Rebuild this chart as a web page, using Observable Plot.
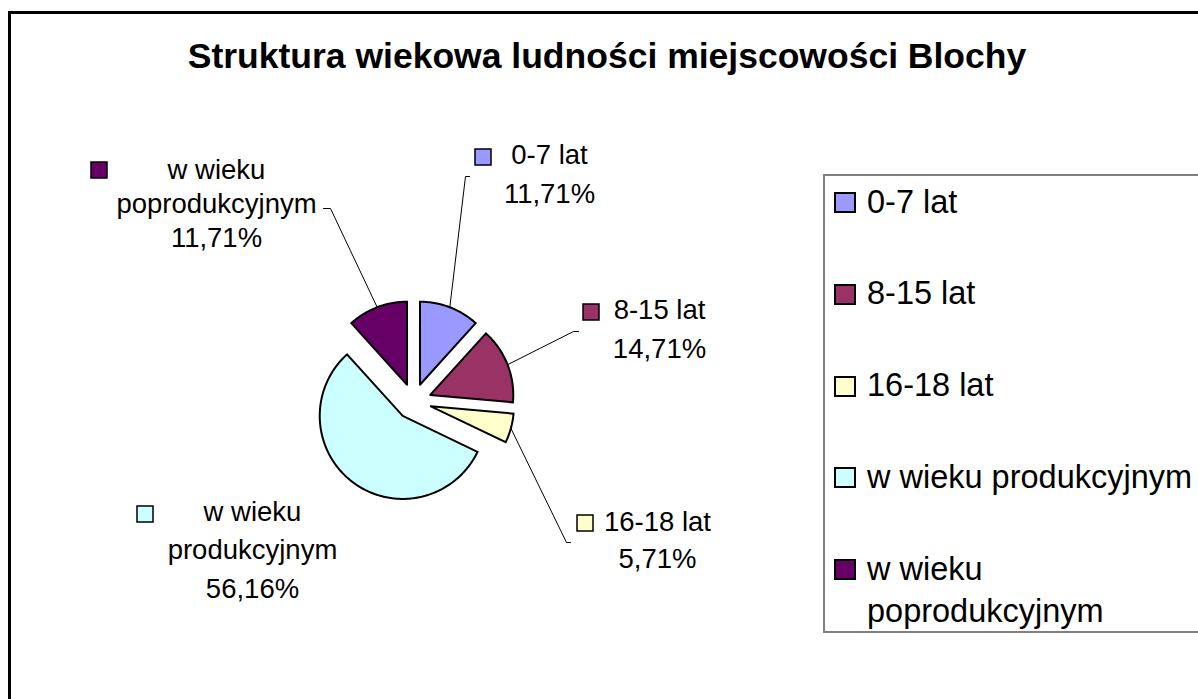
<!DOCTYPE html>
<html>
<head>
<meta charset="utf-8">
<script src="https://cdn.jsdelivr.net/npm/d3@7"></script>
<script src="https://cdn.jsdelivr.net/npm/@observablehq/plot@0.6"></script>
<style>
  html, body { margin: 0; padding: 0; background: #fff; overflow: hidden; }
  #wrap { position: relative; width: 1198px; height: 699px; overflow: hidden; font-family: "Liberation Sans", Arial, sans-serif; color: #000; }
  #chart { position: absolute; left: 0; top: 0; }
  #frame { position: absolute; left: 8px; top: 11px; width: 1300px; height: 800px; border: 3px solid #000; pointer-events: none; }
  #title { position: absolute; left: 0; top: 36px; width: 1214px; text-align: center; font-weight: bold; font-size: 35.5px; line-height: 40px; white-space: nowrap; }
  #legendBox { position: absolute; left: 823px; top: 174px; width: 500px; height: 459px; box-sizing: border-box; border: 2px solid #808080; }
  .lkey { position: absolute; width: 22px; height: 21px; box-sizing: border-box; border: 2px solid #000; }
  .ltext { position: absolute; left: 867px; width: 345px; font-size: 32.5px; line-height: 42px; }
</style>
</head>
<body>
<div id="wrap">
  <div id="chart"></div>
  <div id="legendBox"></div>
  <div id="title"></div>
  <div id="frame"></div>
</div>
<script>
// ---- data ----
const titleText = "Struktura wiekowa ludności miejscowości Blochy";
const categories = ["0-7 lat", "8-15 lat", "16-18 lat", "w wieku produkcyjnym", "w wieku poprodukcyjnym"];
const values = [11.71, 14.71, 5.71, 56.16, 11.71];
const colors = ["#9999FF", "#993366", "#FFFFCC", "#CCFFFF", "#660066"];

// ---- layout (pixels) ----
const W = 1198, H = 699;
const CX = 413, CY = 401, R = 83, EXPLODE = 18;
const labelLayout = [
  {cx: 549, y0: 163, lh: 39, key: [475, 149], leader: [[465, 176], [469, 176]]},
  {cx: 659, y0: 318, lh: 39, key: [583, 304], leader: [[573, 331], [578, 331]]},
  {cx: 657, y0: 530, lh: 37, key: [577, 515], leader: [[566, 542], [570, 542]]},
  {cx: 252, y0: 520, lh: 38.5, key: [137, 506], leader: null},
  {cx: 216, y0: 178, lh: 34, key: [91, 162], leader: [[330, 208], [323, 208]]}
];
const KEY = 16;

// ---- derived geometry from values ----
const total = d3.sum(values);
let cum = 0;
const slicePts = [];
const mids = [];
categories.forEach((c, i) => {
  const a0 = cum / total * 2 * Math.PI;
  cum += values[i];
  const a1 = cum / total * 2 * Math.PI;
  const am = (a0 + a1) / 2;
  const tx = CX + EXPLODE * Math.sin(am), ty = CY - EXPLODE * Math.cos(am);
  slicePts.push({cat: c, x: tx, y: ty});
  const n = Math.max(6, Math.ceil((a1 - a0) / (2 * Math.PI) * 360));
  for (let k = 0; k <= n; k++) {
    const a = a0 + (a1 - a0) * k / n;
    slicePts.push({cat: c, x: tx + R * Math.sin(a), y: ty - R * Math.cos(a)});
  }
  slicePts.push({cat: c, x: tx, y: ty});
  mids.push({x: tx + R * Math.sin(am), y: ty - R * Math.cos(am)});
});

const fmt = v => v.toFixed(2).replace(".", ",") + "%";
const wrapName = s => s.startsWith("w wieku ") ? ["w wieku", s.slice(8)] : [s];

const labelRows = [];
const leaderPts = [];
const keyRows = [];
categories.forEach((c, i) => {
  const L = labelLayout[i];
  const lines = [...wrapName(c), fmt(values[i])];
  lines.forEach((t, j) => labelRows.push({text: t, x: L.cx, y: L.y0 + j * L.lh}));
  keyRows.push({cat: c, x1: L.key[0], x2: L.key[0] + KEY, y1: L.key[1], y2: L.key[1] + KEY});
  if (L.leader) {
    leaderPts.push({id: c, x: mids[i].x, y: mids[i].y});
    L.leader.forEach(p => leaderPts.push({id: c, x: p[0], y: p[1]}));
  }
});

const plot = Plot.plot({
  width: W, height: H,
  margin: 0,
  x: {domain: [0, W], range: [0, W], axis: null},
  y: {domain: [0, H], range: [0, H], axis: null},
  color: {domain: categories, range: colors},
  style: {background: "transparent", fontFamily: "'Liberation Sans', Arial, sans-serif"},
  marks: [
    Plot.line(leaderPts, {x: "x", y: "y", z: "id", stroke: "#000", strokeWidth: 1, curve: "linear"}),
    Plot.line(slicePts, {x: "x", y: "y", z: "cat", fill: "cat", stroke: "#000", strokeWidth: 2,
      strokeLinejoin: "miter", strokeMiterlimit: 10, curve: "linear"}),
    Plot.rect(keyRows, {x1: "x1", x2: "x2", y1: "y1", y2: "y2", fill: "cat", stroke: "#000", strokeWidth: 1.5}),
    Plot.text(labelRows, {x: "x", y: "y", text: "text", fontSize: 27.5, textAnchor: "middle", lineAnchor: "bottom", fill: "#000"})
  ]
});
document.getElementById("chart").appendChild(plot);

// ---- title & legend (HTML) ----
document.getElementById("title").textContent = titleText;
const wrap = document.getElementById("wrap");
categories.forEach((c, i) => {
  const baseline = 213 + i * 91.75;
  const k = document.createElement("div");
  k.className = "lkey";
  k.style.left = "834px";
  k.style.top = (baseline - 21) + "px";
  k.style.background = colors[i];
  wrap.insertBefore(k, document.getElementById("frame"));
  const t = document.createElement("div");
  t.className = "ltext";
  t.style.top = (baseline - 32.4) + "px";
  t.textContent = c;
  wrap.insertBefore(t, document.getElementById("frame"));
});
</script>
</body>
</html>
